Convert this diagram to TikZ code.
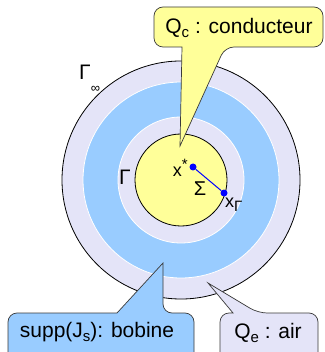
\documentclass[tikz,border=0pt]{standalone}
\usepackage{fontspec}
\setmainfont{Liberation Sans}
\definecolor{lav}{HTML}{E4E4F8}
\definecolor{bleu}{HTML}{99CCFF}
\definecolor{jaune}{HTML}{FFFF99}
\definecolor{bord}{HTML}{3A3A3A}
\newcommand{\subtxt}[1]{\raisebox{-0.4ex}{\fontsize{15}{15}\selectfont #1}}
\begin{document}
\begin{tikzpicture}[x=1pt,y=-1pt,
  callout/.style={draw=bord,line width=0.7pt,rounded corners=9pt},
  big/.style={font=\fontsize{21}{24}\selectfont,inner sep=0pt},
  small/.style={font=\fontsize{18}{20}\selectfont,inner sep=0pt},
  dot/.style={circle,fill=blue,inner sep=0pt,minimum size=7pt}]
\useasboundingbox (0,0) rectangle (324,352);
\clip (0,0) rectangle (324,352);
% rings
\coordinate (c) at (181,180);
\filldraw[fill=lav,draw=black,line width=0.8pt] (c) circle (119pt);
\filldraw[fill=bleu,draw=white,line width=0.8pt] (c) circle (98pt);
\filldraw[fill=lav,draw=white,line width=0.8pt] (c) circle (63pt);
\filldraw[fill=jaune,draw=black,line width=0.8pt] (c) circle (46pt);
% labels on rings
\node[big,anchor=west] (ginf) at (79,79) {Γ\raisebox{-1.2ex}{\fontsize{13}{13}\selectfont ∞}};
\node[big] (gam) at (125,177) {Γ};
% points
\node[dot] (xs) at (193,167) {};
\node[dot] (xg) at (224,193) {};
\draw[blue,line width=1pt] (xs) -- (xg);
\node[small,anchor=east] (lxs) at (188,168) {x\raisebox{0.8ex}{\fontsize{15}{15}\selectfont *}};
\node[font=\fontsize{20}{22}\selectfont,inner sep=0pt] (sig) at (200,189) {Σ};
\node[small,anchor=west] (lxg) at (225,205) {x\subtxt{Γ}};
% callout 1
\draw[callout,fill=jaune] (182,47) -- (154,47) -- (154,7) -- (323,7) -- (323,47) -- (225,47) [sharp corners] -- (180,146) -- cycle;
\node[big] (qc) at (239,28) {Q\subtxt{c} : conducteur};
% callout 2
\draw[callout,fill=bleu] (117,313) -- (8,313) -- (8,370) -- (194,370) -- (194,313) -- (163,313) [sharp corners] -- (163,263) -- cycle;
\node[big] (js) at (97,332) {supp(J\subtxt{s}): bobine};
% callout 3
\draw[callout,fill=lav] (233,313) -- (220,313) -- (220,370) -- (318,370) -- (318,313) -- (258,313) [sharp corners] -- (208,283) -- cycle;
\node[big] (qe) at (268,333) {Q\subtxt{e} : air};
\end{tikzpicture}
\end{document}
